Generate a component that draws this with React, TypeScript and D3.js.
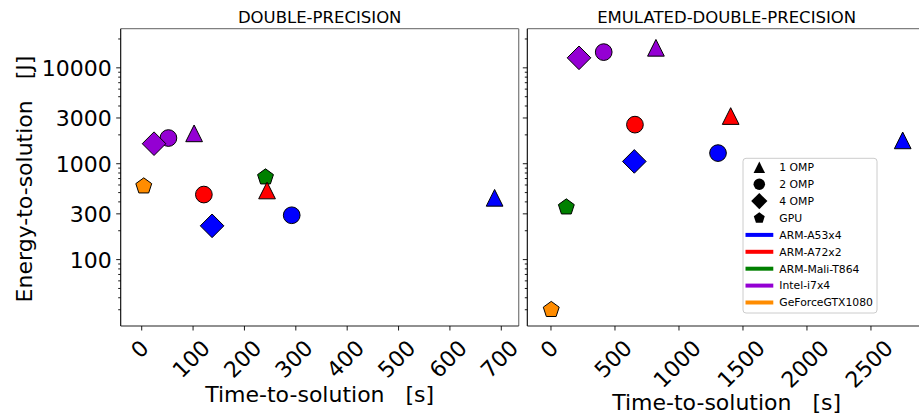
import React from 'react';
import * as d3 from 'd3';

// devices (colour) and parallel modes (marker)
const devices = ['ARM-A53x4', 'ARM-A72x2', 'ARM-Mali-T864', 'Intel-i7x4', 'GeForceGTX1080'];
const deviceColors = ['#0000ff', '#ff0000', '#008000', '#9400d3', '#ff8c00'];
const modes = ['1 OMP', '2 OMP', '4 OMP', 'GPU'];

// DOUBLE-PRECISION
const dpDevice = [0, 0, 0, 1, 1, 2, 3, 3, 3, 4];
const dpMode = [0, 1, 2, 0, 1, 3, 0, 1, 2, 3];
const dpTime = [687, 292, 137, 244, 121, 241, 102, 52, 24, 4];
const dpEnergy = [441, 290, 225, 526, 477, 724, 2074, 1853, 1618, 583];

// EMULATED-DOUBLE-PRECISION
const edDevice = [0, 0, 0, 1, 1, 2, 3, 3, 3, 4];
const edMode = [0, 1, 2, 0, 1, 3, 0, 1, 2, 3];
const edTime = [2748, 1305, 651, 1404, 656, 120, 820, 412, 219, 2];
const edEnergy = [1752, 1291, 1057, 3143, 2556, 352, 16180, 14590, 12720, 30];

const dpTicks = [0, 100, 200, 300, 400, 500, 600, 700];
const edTicks = [0, 500, 1000, 1500, 2000, 2500];
const energyLabels = [100, 300, 1000, 3000, 10000];

const FONT = 'DejaVu Sans, sans-serif';
const TOP = 28.7;
const BOTTOM = 326;
const MS = 16.7;

const y = d3.scaleLog().domain([20.3, 25600]).range([BOTTOM, TOP]);
const minorTicks = y.ticks();

// matplotlib-like marker shapes, ms = marker size in px
function markerPath(mode: number, ms: number) {
  const r = ms / 2;
  if (mode === 0) return `M0,${-r}L${-r},${r}L${r},${r}Z`;
  if (mode === 1) return d3.symbol(d3.symbolCircle, Math.PI * r * r)() as string;
  if (mode === 2) {
    const d = ms * 0.707;
    return `M0,${-d}L${d},0L0,${d}L${-d},0Z`;
  }
  const pts = d3.range(5).map(i => {
    const a = -Math.PI / 2 + (i * 2 * Math.PI) / 5;
    return [r * Math.cos(a), r * Math.sin(a)];
  });
  return 'M' + pts.map(p => p.join(',')).join('L') + 'Z';
}

const drawOrder = [3, 1, 2, 0];

function Panel({ title, x0, x1, domain, ticks, time, energy, device, mode, showLabels, xLabelY }: any) {
  const x = d3.scaleLinear().domain(domain).range([x0, x1]);
  const idx = d3.range(time.length).sort((a, b) => drawOrder.indexOf(mode[a]) - drawOrder.indexOf(mode[b]));
  return (
    <g>
      <text x={(x0 + x1) / 2} y={23} textAnchor="middle" fontSize={16.5} fontFamily={FONT}>{title}</text>
      <rect x={x0} y={TOP} width={x1 - x0} height={BOTTOM - TOP} fill="#fff" />
      {idx.map(i => (
        <path key={i} d={markerPath(mode[i], MS)}
          transform={`translate(${x(time[i])},${y(energy[i])})`}
          fill={deviceColors[device[i]]} stroke="#000" strokeWidth={1} />
      ))}
      {/* spines */}
      <line x1={x0} x2={x1} y1={TOP} y2={TOP} stroke="#808080" strokeWidth={1.3} />
      <line x1={x1} x2={x1} y1={TOP} y2={BOTTOM} stroke="#808080" strokeWidth={1.3} />
      <line x1={x0} x2={x0} y1={TOP} y2={BOTTOM} stroke="#000" strokeWidth={1.1} />
      <line x1={x0} x2={x1} y1={BOTTOM} y2={BOTTOM} stroke="#222" strokeWidth={1.1} />
      {/* y ticks */}
      {minorTicks.map(t => {
        const major = energyLabels.includes(t);
        return <line key={t} x1={x0 - (major ? 4.5 : 2.5)} x2={x0} y1={y(t)} y2={y(t)} stroke="#000" strokeWidth={0.9} />;
      })}
      {showLabels && energyLabels.map(t => (
        <text key={t} x={x0 - 9} y={y(t)} dy="0.36em" textAnchor="end" fontSize={22} fontFamily={FONT}>{t}</text>
      ))}
      {/* x ticks */}
      {ticks.map((t: number) => {
        const label = String(t);
        const w = label.length * 0.636 * 22 - 2;
        const cy = 339 + (w + 16) * 0.707 / 2;
        return (
          <g key={t}>
            <line x1={x(t)} x2={x(t)} y1={BOTTOM} y2={BOTTOM + 4.5} stroke="#000" strokeWidth={0.9} />
            <text transform={`translate(${x(t) - 2},${cy}) rotate(-45)`} dy="0.36em" textAnchor="middle"
              fontSize={22} fontFamily={FONT}>{label}</text>
          </g>
        );
      })}
      <text x={(x0 + x1) / 2} y={xLabelY} textAnchor="middle" fontSize={22} fontFamily={FONT}
        style={{ whiteSpace: 'pre' }}>{'Time-to-solution   [s]'}</text>
    </g>
  );
}

function Legend() {
  const lx = 743, ly = 158.3, lw = 134, lh = 154.7;
  const rowY = (i: number) => 167.3 + i * 16.9;
  return (
    <g fontFamily={FONT} fontSize={10.8}>
      <rect x={lx} y={ly} width={lw} height={lh} rx={3} fill="#fff" fillOpacity={0.8} stroke="#cccccc" />
      {modes.map((m, i) => (
        <g key={m}>
          <path d={markerPath(i, 11.5)} transform={`translate(759.3,${rowY(i)})`} fill="#000" />
          <text x={779.3} y={rowY(i)} dy="0.36em">{m}</text>
        </g>
      ))}
      {devices.map((d, j) => {
        const i = j + modes.length;
        return (
          <g key={d}>
            <line x1={745.5} x2={773.3} y1={rowY(i)} y2={rowY(i)} stroke={deviceColors[j]} strokeWidth={4} />
            <text x={779.3} y={rowY(i)} dy="0.36em">{d}</text>
          </g>
        );
      })}
    </g>
  );
}

export default function App() {
  return (
    <svg width={919} height={417} style={{ position: 'absolute', left: 0, top: 0, background: '#fff' }}>
      <text transform="translate(32,179) rotate(-90)" textAnchor="middle" fontSize={22} fontFamily={FONT}
        style={{ whiteSpace: 'pre' }}>{'Energy-to-solution   [J]'}</text>
      <Panel title="DOUBLE-PRECISION" x0={120.7} x1={518.7} domain={[-40.9, 733.9]} ticks={dpTicks}
        time={dpTime} energy={dpEnergy} device={dpDevice} mode={dpMode} showLabels xLabelY={401.7} />
      <Panel title="EMULATED-DOUBLE-PRECISION" x0={527.3} x1={926} domain={[-185, 2930]} ticks={edTicks}
        time={edTime} energy={edEnergy} device={edDevice} mode={edMode} showLabels={false} xLabelY={409.5} />
      <Legend />
    </svg>
  );
}
